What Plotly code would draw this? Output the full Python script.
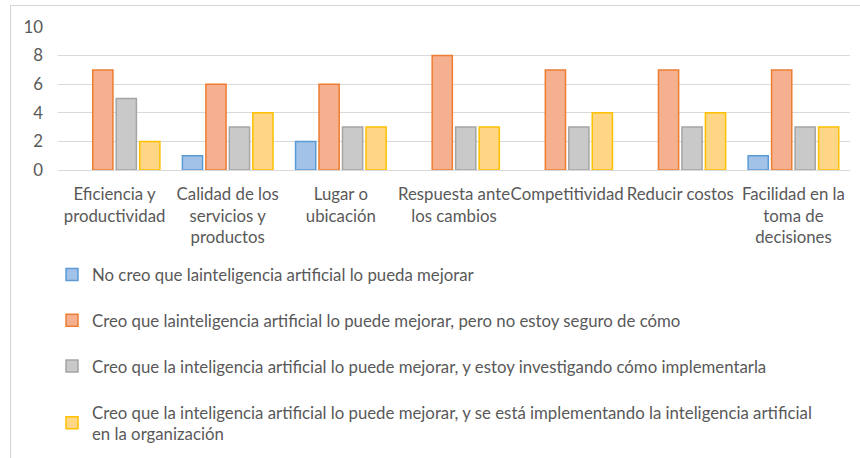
import plotly.graph_objects as go

categories = [
    "Eficiencia y<br>productividad",
    "Calidad de los<br>servicios y<br>productos",
    "Lugar o<br>ubicación",
    "Respuesta ante<br>los cambios",
    "Competitividad",
    "Reducir costos",
    "Facilidad en la<br>toma de<br>decisiones",
]
series_names = [
    "No creo que lainteligencia artificial lo pueda mejorar",
    "Creo que lainteligencia artificial lo puede mejorar, pero no estoy seguro de cómo",
    "Creo que la inteligencia artificial lo puede mejorar, y estoy investigando cómo implementarla",
    "Creo que la inteligencia artificial lo puede mejorar, y se está implementando la inteligencia artificial<br>en la organización",
]
no_mejora = [0, 1, 2, 0, 0, 0, 1]
no_seguro = [7, 6, 6, 8, 7, 7, 7]
investigando = [5, 3, 3, 3, 3, 3, 3]
implementando = [2, 4, 3, 3, 4, 4, 3]
values = [no_mejora, no_seguro, investigando, implementando]

fills = ["#A3C2E8", "#F5B08F", "#C9C9C9", "#FFD685"]
edges = ["#5B9BD5", "#ED7D31", "#A5A5A5", "#FFC000"]

W, H = 860, 458
L, R, T, B = 58, 10, 27, 288
FS = 16.8

fig = go.Figure()
for i, (name, vals) in enumerate(zip(series_names, values)):
    fig.add_trace(go.Bar(
        x=categories, y=[v if v else None for v in vals], name=name,
        marker=dict(color=fills[i], line=dict(color=edges[i], width=1.5)),
        legendgroup=f"g{i}",
    ))

pw = W - L - R
ph = H - T - B
def px_x(p):
    return (p - L) / pw
def px_y(p):
    return (H - B - p) / ph

fig.update_layout(
    width=W, height=H,
    margin=dict(l=L, r=R, t=T, b=B, autoexpand=False),
    paper_bgcolor="white", plot_bgcolor="white",
    font=dict(family="Lato, Liberation Sans, sans-serif", size=FS, color="#595959"),
    barmode="group", bargap=0.17, bargroupgap=0.14,
    showlegend=True,
    legend=dict(
        x=px_x(52), y=px_y(257), xanchor="left", yanchor="top",
        orientation="v", tracegroupgap=21,
        font=dict(size=FS, color="#595959"),
        bgcolor="rgba(0,0,0,0)",
    ),
    shapes=[
        dict(type="line", xref="paper", yref="paper",
             x0=px_x(10.5), x1=px_x(10.5), y0=px_y(470), y1=px_y(5.5),
             line=dict(color="#D4D4D4", width=1), layer="above"),
        dict(type="line", xref="paper", yref="paper",
             x0=px_x(10.5), x1=px_x(870), y0=px_y(5.5), y1=px_y(5.5),
             line=dict(color="#D4D4D4", width=1), layer="above"),
    ],
)
fig.update_yaxes(
    range=[0, 10], dtick=2, showgrid=True, gridcolor="#D9D9D9", gridwidth=1,
    zeroline=True, zerolinecolor="#D9D9D9", zerolinewidth=1,
    showline=False, ticks="", ticklabelstandoff=14,
    tickfont=dict(size=FS, color="#595959"),
)
fig.update_xaxes(
    showline=False, ticks="", ticklabelstandoff=12,
    tickfont=dict(size=FS, color="#595959"), tickangle=0,
)

fig.write_html("out.html", config={"displayModeBar": False},
               post_script="document.body.style.margin='0px';document.body.style.overflow='hidden';")
